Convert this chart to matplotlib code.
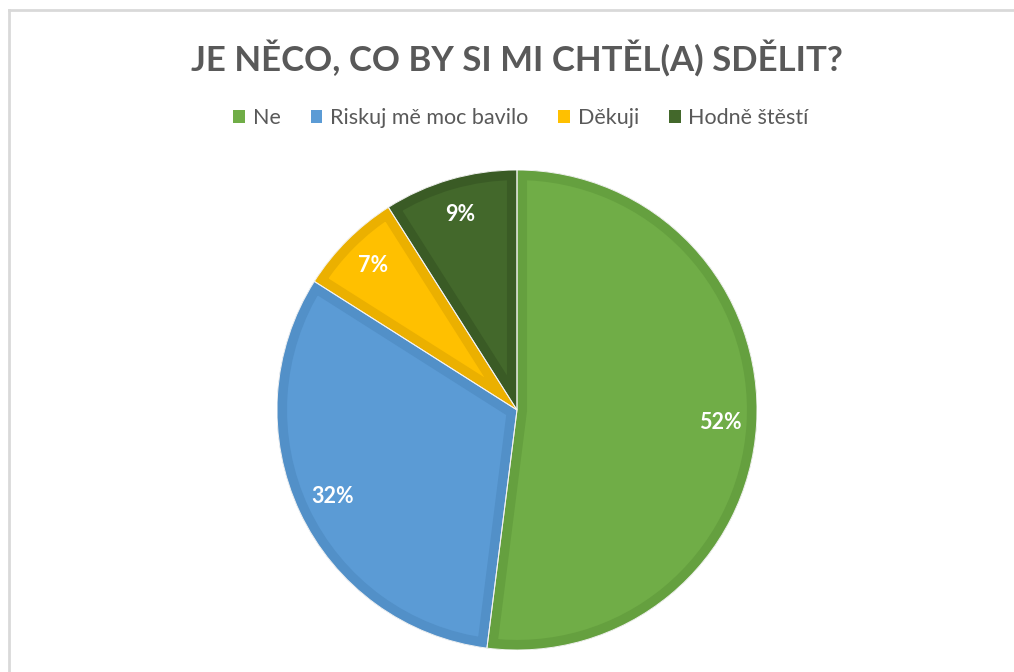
import matplotlib
matplotlib.use('Agg')
import matplotlib.pyplot as plt
from matplotlib.lines import Line2D
from matplotlib.patches import Patch, PathPatch

labels = ['Ne', 'Riskuj mě moc bavilo', 'Děkuji', 'Hodně štěstí']
values = [52, 32, 7, 9]
colors = ['#70AD47', '#5B9BD5', '#FFC000', '#43682B']
edges = ['#65A03F', '#5290C8', '#EBB000', '#3A5B25']
title = 'JE NĚCO, CO BY SI MI CHTĚL(A) SDĚLIT?'

W, H = 1014, 672
fig = plt.figure(figsize=(W / 100, H / 100), dpi=100)
plt.rcParams['font.family'] = ['Lato', 'DejaVu Sans']

# light frame
fig.add_artist(Line2D([9 / W, 1], [1 - 10 / H, 1 - 10 / H], color='#D9D9D9', lw=2))
fig.add_artist(Line2D([9 / W, 9 / W], [0, 1 - 10 / H], color='#D9D9D9', lw=2))

r = 240
cx, cy = 517, 410
ax = fig.add_axes([(cx - r) / W, (H - cy - r) / H, 2 * r / W, 2 * r / H])
wedges, texts, autotexts = ax.pie(values, colors=colors, startangle=90, counterclock=False,
                                  autopct='%1.0f%%', pctdistance=0.85, radius=1,
                                  wedgeprops=dict(edgecolor='none', linewidth=0),
                                  textprops=dict(color='white', fontsize=15.5, fontweight='bold'))
ax.set_xlim(-1, 1)
ax.set_ylim(-1, 1)
ax.set_aspect('equal')
ax.axis('off')

# inner darker stroke on each slice, clipped to the slice
for w, ec in zip(wedges, edges):
    path = w.get_path()
    stroke = PathPatch(path, facecolor='none', edgecolor=ec, lw=14.5,
                       transform=ax.transData, zorder=2)
    ax.add_patch(stroke)
    stroke.set_clip_path(path, ax.transData)
    sep = PathPatch(path, facecolor='none', edgecolor='#F2F2F2', lw=0.7,
                    transform=ax.transData, zorder=2.5)
    ax.add_patch(sep)
for t in autotexts:
    t.set_zorder(4)

fig.text(cx / W, 1 - 58 / H, title, ha='center', va='center', fontsize=25, fontweight='bold',
         color='#595959')

handles = [Patch(facecolor=c, edgecolor='none') for c in colors]
fig.legend(handles, labels, loc='center', bbox_to_anchor=(521 / W, 1 - 118 / H), ncol=4,
           frameon=False, fontsize=15.5, labelcolor='#595959', handlelength=0.55, handleheight=0.55,
           handletextpad=0.35, columnspacing=1.4)

fig.savefig('out.png', dpi=100)
